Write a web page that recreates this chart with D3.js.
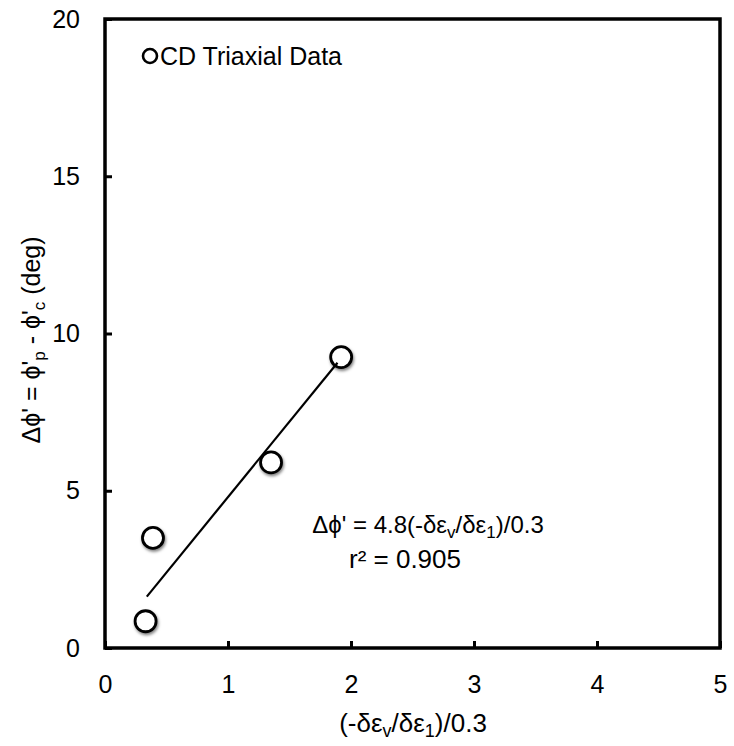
<!DOCTYPE html>
<html>
<head>
<meta charset="utf-8">
<script src="https://cdn.jsdelivr.net/npm/d3@7"></script>
<style>
  body { margin: 0; background: #fff; }
  svg { display: block; font-family: Arial, "Liberation Sans", sans-serif; }
</style>
</head>
<body>
<svg width="734" height="746"></svg>
<script>
// data
const strainRatio = [0.33, 0.39, 1.35, 1.92];
const deltaPhi = [0.85, 3.5, 5.9, 9.25];
const fitRange = [0.34, 1.89];
const fitSlope = 4.8;
const xTicks = [0, 1, 2, 3, 4, 5];
const yTicks = [0, 5, 10, 15, 20];

const svg = d3.select("svg");

const x = d3.scaleLinear().domain([0, 5]).range([105, 720]);
const y = d3.scaleLinear().domain([0, 20]).range([648, 19]);

const defs = svg.append("defs");
const shadow = defs.append("filter").attr("id", "shadow")
    .attr("x", "-50%").attr("y", "-50%").attr("width", "200%").attr("height", "200%");
shadow.append("feDropShadow")
    .attr("dx", 1).attr("dy", 2).attr("stdDeviation", 1.8)
    .attr("flood-color", "#000").attr("flood-opacity", 0.5);

// axes with inward ticks
const xAxis = svg.append("g")
    .attr("transform", `translate(0,${y(0)})`)
    .call(d3.axisBottom(x).tickValues(xTicks).tickSize(-7).tickPadding(27).tickFormat(d3.format("d")));
const yAxis = svg.append("g")
    .attr("transform", `translate(${x(0)},0)`)
    .call(d3.axisLeft(y).tickValues(yTicks).tickSize(-7).tickPadding(25).tickFormat(d3.format("d")));

[xAxis, yAxis].forEach(g => {
    g.select(".domain").remove();
    g.selectAll(".tick line").attr("stroke", "#000").attr("stroke-width", 3);
    g.selectAll(".tick text").attr("font-size", 25).attr("fill", "#000")
        .attr("font-family", "Arial, 'Liberation Sans', sans-serif");
});

svg.append("rect")
    .attr("x", x(0)).attr("y", y(20))
    .attr("width", x(5) - x(0)).attr("height", y(0) - y(20))
    .attr("fill", "none").attr("stroke", "#000").attr("stroke-width", 3.5);

// markers
svg.append("g").selectAll("circle")
    .data(strainRatio.map((v, i) => [v, deltaPhi[i]]))
    .join("circle")
    .attr("cx", d => x(d[0]))
    .attr("cy", d => y(d[1]))
    .attr("r", 10.5)
    .attr("fill", "#fff")
    .attr("stroke", "#000")
    .attr("stroke-width", 2.8)
    .attr("filter", "url(#shadow)");

// linear fit
svg.append("path")
    .datum(fitRange.map(v => [v, fitSlope * v]))
    .attr("d", d3.line().x(d => x(d[0])).y(d => y(d[1])))
    .attr("stroke", "#000").attr("stroke-width", 2.2).attr("fill", "none");

// legend
svg.append("circle")
    .attr("cx", 150).attr("cy", 56).attr("r", 7)
    .attr("fill", "#fff").attr("stroke", "#000").attr("stroke-width", 2.6);
svg.append("text")
    .attr("x", 160).attr("y", 65)
    .attr("font-size", 25).text("CD Triaxial Data");

// equation
const eq = svg.append("text")
    .attr("x", 428).attr("y", 533)
    .attr("text-anchor", "middle").attr("font-size", 24);
eq.append("tspan").text("Δϕ' = 4.8(-δε");
eq.append("tspan").attr("font-size", 17).attr("dy", 5).text("v");
eq.append("tspan").attr("dy", -5).text("/δε");
eq.append("tspan").attr("font-size", 17).attr("dy", 5).text("1");
eq.append("tspan").attr("dy", -5).text(")/0.3");

svg.append("text")
    .attr("x", 405).attr("y", 568)
    .attr("text-anchor", "middle").attr("font-size", 26)
    .text("r² = 0.905");

// x title
const xt = svg.append("text")
    .attr("x", 413).attr("y", 732)
    .attr("text-anchor", "middle").attr("font-size", 26);
xt.append("tspan").text("(-δε");
xt.append("tspan").attr("font-size", 18).attr("dy", 5).text("v");
xt.append("tspan").attr("dy", -5).text("/δε");
xt.append("tspan").attr("font-size", 18).attr("dy", 5).text("1");
xt.append("tspan").attr("dy", -5).text(")/0.3");

// y title
const yt = svg.append("text")
    .attr("transform", "translate(40,340) rotate(-90)")
    .attr("text-anchor", "middle").attr("font-size", 25);
yt.append("tspan").text("Δϕ' = ϕ'");
yt.append("tspan").attr("font-size", 17).attr("dy", 5).text("p");
yt.append("tspan").attr("dy", -5).text(" - ϕ'");
yt.append("tspan").attr("font-size", 17).attr("dy", 5).text("c");
yt.append("tspan").attr("dy", -5).text(" (deg)");
</script>
</body>
</html>
